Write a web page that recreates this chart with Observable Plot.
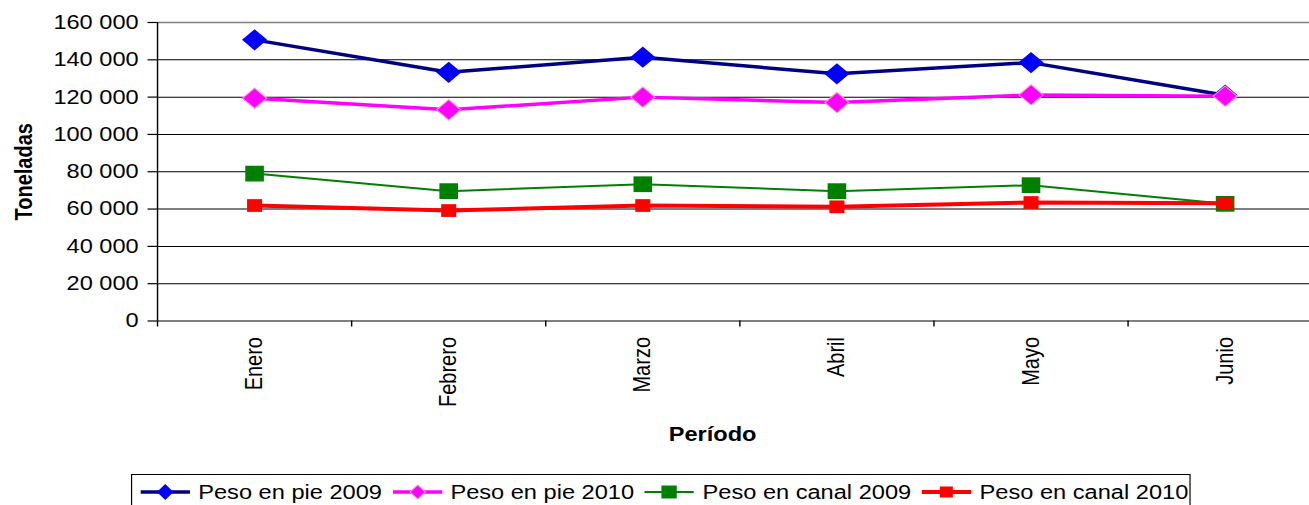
<!DOCTYPE html>
<html>
<head>
<meta charset="utf-8">
<script src="https://cdn.jsdelivr.net/npm/d3@7"></script>
<script src="https://cdn.jsdelivr.net/npm/@observablehq/plot@0.6"></script>
<style>
  html, body { margin: 0; padding: 0; background: #fff; overflow: hidden; }
  #wrap { width: 1309px; height: 505px; overflow: hidden; position: relative; background: #fff; }
  #inner { position: absolute; left: 0; top: 0; width: 1120px; height: 520px; transform: scaleX(1.18); transform-origin: 0 0; font-family: "Liberation Sans", Arial, sans-serif; }
  #legend { position: absolute; left: 111px; top: 474px; width: 898px; height: 40px; box-sizing: border-box; border: 1px solid #000; background: #fff; display: flex; align-items: flex-start; padding-top: 5px; }
  .item { display: flex; align-items: center; height: 24px; }
  .item span { font-size: 20px; line-height: 24px; color: #000; margin-left: 7px; white-space: nowrap; }
  .item svg { display: block; }
</style>
</head>
<body>
<div id="wrap"><div id="inner"><div id="chart"></div><div id="legend"></div></div></div>
<script>
// ---- data ----
const months = ["Enero", "Febrero", "Marzo", "Abril", "Mayo", "Junio"];
const pie2009 = [150700, 133300, 141400, 132500, 138500, 121000];
const pie2010 = [119400, 113200, 120000, 117100, 121200, 120500];
const canal2009 = [79000, 69600, 73300, 69600, 72800, 62800];
const canal2010 = [61900, 59200, 61900, 61200, 63500, 63100];
const seriesNames = ["Peso en pie 2009", "Peso en pie 2010", "Peso en canal 2009", "Peso en canal 2010"];
const yTicks = [0, 20000, 40000, 60000, 80000, 100000, 120000, 140000, 160000];

// ---- styles ----
const series = [
  {name: seriesNames[0], values: pie2009, line: "#000080", lw: 3.5, symbol: "diamond2", r: 9.6, fill: "#0000FF", stroke: "#0000FF", sw: 0},
  {name: seriesNames[1], values: pie2010, line: "#FF00FF", lw: 3.5, symbol: "diamond2", r: 9.2, fill: "#FF00FF", stroke: "#FF99CC", sw: 1},
  {name: seriesNames[2], values: canal2009, line: "#008000", lw: 2, symbol: "square", r: 8.9, fill: "#008000", stroke: "#008000", sw: 0},
  {name: seriesNames[3], values: canal2010, line: "#FF0000", lw: 4, symbol: "square", r: 7.2, fill: "#FF0000", stroke: "#FF0000", sw: 0}
];

const idx = months.map((_, i) => i);
const bounds = d3.range(-0.5, months.length + 0.5, 1);
const fmt = v => d3.format(",")(v).replace(/,/g, " ");

const marks = [
  Plot.ruleY(yTicks.filter(v => v > 0 && v < 160000), {stroke: "#000", strokeWidth: 1}),
  Plot.ruleY([160000], {stroke: "#808080", strokeWidth: 1.5}),
  Plot.ruleY([0], {stroke: "#000", strokeWidth: 1.2}),
  Plot.ruleX([-0.5], {y1: 0, y2: 160000, stroke: "#000", strokeWidth: 1.2}),
  Plot.axisY({ticks: yTicks, tickFormat: fmt, tickSize: 8, tickPadding: 8, fontSize: 20, label: null, strokeWidth: 1.2}),
  Plot.axisX({ticks: bounds, tickFormat: () => "", tickSize: 6, label: null, strokeWidth: 1.2}),
  Plot.axisX({ticks: idx, tickFormat: i => months[i], tickSize: 0, tickPadding: 16, tickRotate: -90, fontSize: 20, label: null}),
  Plot.text(["Toneladas"], {text: d => d, frameAnchor: "left", dx: 20.5 - 133, rotate: -90, textAnchor: "middle", lineAnchor: "middle", fontWeight: "bold", fontSize: 20}),
  Plot.text(["Período"], {text: d => d, frameAnchor: "bottom", dx: -23.1, dy: 114, textAnchor: "middle", lineAnchor: "middle", fontWeight: "bold", fontSize: 20})
];
for (const s of series) {
  marks.push(Plot.line(idx, {x: i => i, y: i => s.values[i], stroke: s.line, strokeWidth: s.lw, strokeLinejoin: "round"}));
  marks.push(Plot.dot(idx, {x: i => i, y: i => s.values[i], symbol: s.symbol, r: s.r, fill: s.fill, stroke: s.stroke, strokeWidth: s.sw}));
}

const chart = Plot.plot({
  width: 1120,
  height: 470,
  marginLeft: 133,
  marginRight: 0,
  marginTop: 22,
  marginBottom: 149.5,
  x: {type: "linear", domain: [-0.5, months.length - 0.5]},
  y: {domain: [0, 160000]},
  style: {fontFamily: "'Liberation Sans', Arial, sans-serif", fontSize: "20px", color: "#000", background: "transparent", overflow: "visible"},
  marks
});
document.getElementById("chart").appendChild(chart);

// ---- legend ----
const legend = document.getElementById("legend");
const sw = [
  s => `<line x1="0" x2="42" y1="12" y2="12" stroke="${s.line}" stroke-width="${s.lw}"/><polygon points="21,4 28,12 21,20 14,12" fill="${s.fill}" stroke="${s.stroke}" stroke-width="${s.sw}"/>`,
  s => `<line x1="0" x2="42" y1="12" y2="12" stroke="${s.line}" stroke-width="${s.lw}"/><polygon points="21,5 27.5,12 21,19 14.5,12" fill="${s.fill}" stroke="${s.stroke}" stroke-width="${s.sw}"/>`,
  s => `<line x1="0" x2="42" y1="12" y2="12" stroke="${s.line}" stroke-width="${s.lw}"/><rect x="14.5" y="5.5" width="13" height="13" fill="${s.fill}"/>`,
  s => `<line x1="0" x2="42" y1="12" y2="12" stroke="${s.line}" stroke-width="${s.lw}"/><rect x="15.5" y="6.5" width="11" height="11" fill="${s.fill}"/>`
];
series.forEach((s, k) => {
  const it = document.createElement("div");
  it.className = "item";
  it.style.marginLeft = k === 0 ? "7px" : "9px";
  it.innerHTML = `<svg width="42" height="24" viewBox="0 0 42 24">${sw[k](s)}</svg><span>${s.name}</span>`;
  legend.appendChild(it);
});
</script>
</body>
</html>
